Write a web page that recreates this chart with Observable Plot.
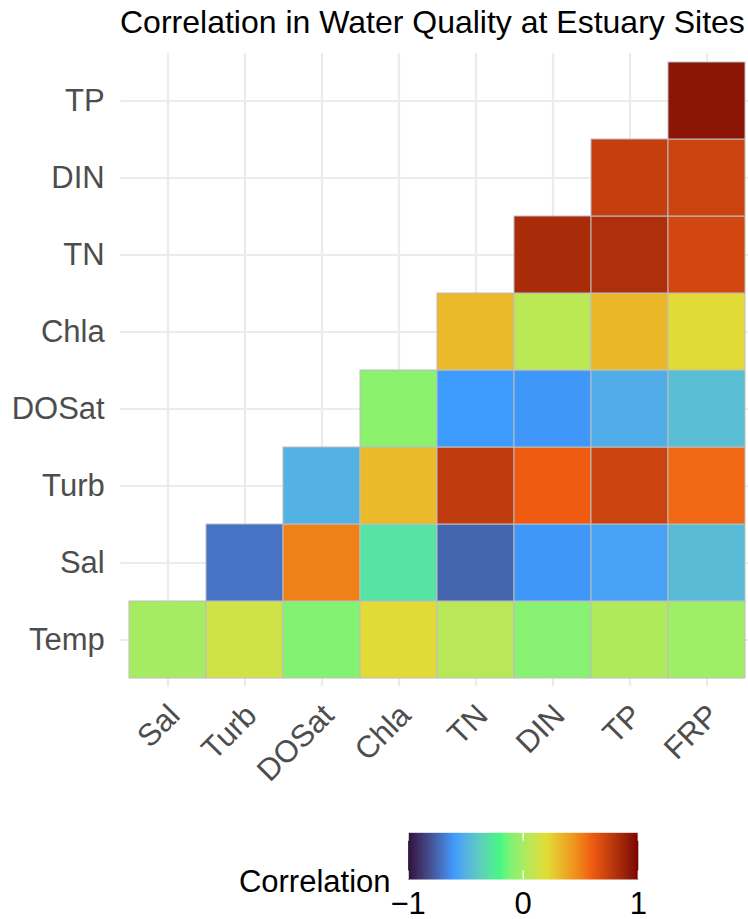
<!DOCTYPE html>
<html>
<head>
<meta charset="utf-8">
<script src="https://cdn.jsdelivr.net/npm/d3@7"></script>
<script src="https://cdn.jsdelivr.net/npm/@observablehq/plot@0.6"></script>
<style>
  html, body { margin: 0; padding: 0; background: #fff; }
  #wrap { position: relative; width: 748px; height: 919px; overflow: hidden;
          font-family: "Liberation Sans", Arial, Helvetica, sans-serif; }
  #chart { position: absolute; left: 0; top: 0; }
  #legend { position: absolute; left: 0; top: 800px; }
  #title { position: absolute; left: 120px; top: 6px; font-size: 32px; line-height: 32px;
           color: #000; white-space: nowrap; }
</style>
</head>
<body>
<div id="wrap">
  <div id="chart"></div>
  <div id="title">Correlation in Water Quality at Estuary Sites</div>
  <div id="legend"></div>
</div>
<script>
// Variables along each axis
const xVars = ["Sal", "Turb", "DOSat", "Chla", "TN", "DIN", "TP", "FRP"];
const yVars = ["Temp", "Sal", "Turb", "DOSat", "Chla", "TN", "DIN", "TP"]; // bottom to top

// Pearson correlations, one row per y variable, starting at the matching x column
const rTemp  = [-0.01, 0.13, -0.10, 0.21, 0.05, -0.09, 0.02, -0.03]; // vs Sal..FRP
const rSal   = [-0.71, 0.50, -0.29, -0.75, -0.61, -0.57, -0.46];      // vs Turb..FRP
const rTurb  = [-0.50, 0.32, 0.76, 0.60, 0.72, 0.57];                 // vs DOSat..FRP
const rDOSat = [-0.08, -0.60, -0.61, -0.52, -0.45];                   // vs Chla..FRP
const rChla  = [0.32, 0.06, 0.33, 0.21];                              // vs TN..FRP
const rTN    = [0.84, 0.82, 0.70];                                    // vs DIN..FRP
const rDIN   = [0.74, 0.72];                                          // vs TP..FRP
const rTP    = [0.94];                                                // vs FRP

const rows = [rTemp, rSal, rTurb, rDOSat, rChla, rTN, rDIN, rTP];

// Colour bar
const legendTicks = [-1, 0, 1];
const legendTitle = "Correlation";

// Turbo palette, six stops between -1 and 1
const paletteStops = [-1, -0.6, -0.2, 0.2, 0.6, 1];
const paletteColors = ["#30123B", "#3E9BFE", "#46F884", "#E1DD37", "#F05B12", "#7A0403"];

// Long table of cells
const cells = [];
rows.forEach((vals, i) => {
  vals.forEach((r, k) => {
    cells.push({ row: yVars[i], col: xVars[i + k], r });
  });
});

const FONT = '"Liberation Sans", Arial, Helvetica, sans-serif';
const colorScale = {
  type: "linear",
  domain: paletteStops,
  range: paletteColors,
  interpolate: "lab",
  clamp: true
};
const yTopDown = yVars.slice().reverse();

const chart = Plot.plot({
  width: 748,
  height: 800,
  marginLeft: 120.2,
  marginRight: 0,
  marginTop: 52.9,
  marginBottom: 113.8,
  style: { fontFamily: FONT, background: "transparent" },
  x: { type: "band", domain: xVars, range: [128, 745.3], padding: 0, axis: null },
  y: { type: "band", domain: yTopDown, range: [60.7, 678.5], padding: 0, axis: null },
  color: colorScale,
  marks: [
    Plot.gridX(xVars, { stroke: "#ebebeb", strokeOpacity: 1, strokeWidth: 2.2 }),
    Plot.gridY(yTopDown, { stroke: "#ebebeb", strokeOpacity: 1, strokeWidth: 2.2 }),
    Plot.cell(cells, { x: "col", y: "row", fill: "r", stroke: "#bebebe", strokeWidth: 1 }),
    Plot.text(yTopDown, {
      y: d => d, frameAnchor: "left", textAnchor: "end", dx: -16,
      fontSize: 31, fill: "#4d4d4d"
    }),
    Plot.text(xVars, {
      x: d => d, frameAnchor: "bottom", rotate: -45, textAnchor: "end",
      lineAnchor: "top", dx: -2, dy: 15, fontSize: 31, fill: "#4d4d4d"
    })
  ]
});
document.getElementById("chart").appendChild(chart);

const fmt = d => (d < 0 ? "\u2212" + Math.abs(d) : String(d));

const legend = Plot.plot({
  width: 748,
  height: 119,
  margin: 0,
  style: { fontFamily: FONT, background: "transparent" },
  x: { type: "linear", domain: [-1, 1], range: [407.6, 637.8], axis: null },
  y: { type: "linear", domain: [0, 1], range: [79, 32.3], axis: null },
  color: colorScale,
  marks: [
    Plot.raster({ x1: -1, x2: 1, y1: 0, y2: 1, width: 256, height: 1, fill: (x, y) => x }),
    Plot.ruleX(legendTicks, { y1: 0, y2: 0.18, stroke: "white", strokeWidth: 1.3 }),
    Plot.ruleX(legendTicks, { y1: 0.82, y2: 1, stroke: "white", strokeWidth: 1.3 }),
    Plot.text(legendTicks, {
      x: d => d, y: 0, text: fmt, dy: 34, lineAnchor: "bottom",
      fontSize: 31, fill: "#000"
    }),
    Plot.text([legendTitle], {
      x: -1, y: 0, text: d => d, textAnchor: "end", dx: -17.6, dy: 12,
      lineAnchor: "bottom", fontSize: 31, fill: "#000"
    })
  ]
});
document.getElementById("legend").appendChild(legend);
</script>
</body>
</html>
